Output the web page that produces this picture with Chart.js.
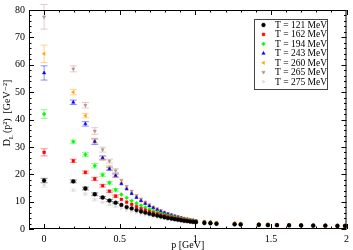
<!DOCTYPE html>
<html>
<head>
<meta charset="utf-8">
<script src="https://cdn.jsdelivr.net/npm/chart.js@4/dist/chart.umd.min.js"></script>
<style>
  body { margin: 0; background: #fff; }
</style>
</head>
<body>
<canvas id="propChart" width="353" height="250"></canvas>
<script>
// momenta p [GeV]
const momenta = [0, 0.193, 0.273, 0.335, 0.387, 0.432, 0.473, 0.511, 0.546, 0.579,
  0.611, 0.641, 0.669, 0.696, 0.722, 0.748, 0.772, 0.796, 0.819, 0.842,
  0.864, 0.885, 0.906, 0.926, 0.946, 0.966, 0.985, 1.004, 1.06, 1.1,
  1.14, 1.26, 1.3, 1.42, 1.48, 1.54, 1.62, 1.7, 1.78, 1.86, 1.94, 1.99];

const temps = ['T = 121 MeV', 'T = 162 MeV', 'T = 194 MeV', 'T = 243 MeV',
  'T = 260 MeV', 'T = 265 MeV', 'T = 275 MeV'];

// D_L(p^2) [GeV^-2]
const d121 = [17.7, 17.4, 14.8, 12.7, 11.5, 10.4, 9.6, 8.8, 8.0, 7.5, 6.9, 6.4, 6.0, 5.6, 5.2, 4.9, 4.6, 4.3, 4.0, 3.8, 3.6, 3.4, 3.2, 3.0, 2.9, 2.7, 2.6, 2.5, 2.2, 2.1, 1.9, 1.7, 1.6, 1.5, 1.4, 1.4, 1.3, 1.3, 1.2, 1.2, 1.1, 1.1];
const d162 = [28.0, 24.9, 20.7, 18.3, 15.8, 13.8, 12.0, 10.8, 9.8, 9.0, 8.2, 7.5, 6.9, 6.4, 5.9, 5.5, 5.1, 4.8, 4.4, 4.2, 3.9, 3.7, 3.5, 3.3, 3.1, 2.9, 2.8, 2.7, 2.4, 2.2, 2.0, 1.8, 1.7, 1.6, 1.5, 1.4, 1.4, 1.3, 1.3, 1.2, 1.2, 1.1];
const d194 = [42.0, 31.9, 27.2, 23.1, 19.8, 16.9, 14.3, 12.6, 11.4, 10.3, 9.4, 8.6, 7.9, 7.2, 6.6, 6.1, 5.6, 5.2, 4.8, 4.5, 4.2, 3.9, 3.7, 3.5, 3.3, 3.1, 2.9, 2.8, 2.5, 2.3, 2.1, 1.9, 1.8, 1.6, 1.6, 1.5, 1.4, 1.4, 1.3, 1.3, 1.2, 1.2];
const d243 = [57.0, 46.3, 38.4, 31.9, 26.0, 22.0, 19.5, 16.5, 14.6, 12.9, 11.5, 10.3, 9.3, 8.4, 7.7, 7.0, 6.4, 5.9, 5.4, 5.0, 4.6, 4.3, 4.0, 3.7, 3.5, 3.3, 3.1, 2.9, 2.6, 2.4, 2.2, 2.0, 1.9, 1.7, 1.6, 1.5, 1.5, 1.4, 1.3, 1.3, 1.2, 1.2];
const d260 = [64.0, 50.0, 41.4, 32.2, 25.8, 22.5, 19.5, 16.8, 14.9, 13.2, 11.7, 10.5, 9.5, 8.6, 7.8, 7.1, 6.5, 6.0, 5.5, 5.1, 4.7, 4.4, 4.1, 3.8, 3.6, 3.4, 3.2, 3.0, 2.7, 2.5, 2.3, 2.0, 1.9, 1.7, 1.7, 1.6, 1.5, 1.4, 1.4, 1.3, 1.3, 1.2];
const d265 = [77.5, 58.5, 45.2, 35.8, 29.0, 24.8, 21.3, 17.8, 15.6, 13.9, 12.3, 11.0, 9.9, 8.9, 8.1, 7.4, 6.8, 6.2, 5.7, 5.3, 4.9, 4.5, 4.2, 3.9, 3.7, 3.5, 3.3, 3.1, 2.8, 2.6, 2.3, 2.1, 2.0, 1.8, 1.7, 1.6, 1.5, 1.5, 1.4, 1.4, 1.3, 1.3];
const d275 = [16.0, 14.2, 12.8, 10.7, 9.8, 8.9, 8.2, 7.5, 6.9, 6.4, 5.9, 5.5, 5.1, 4.8, 4.5, 4.2, 3.9, 3.7, 3.5, 3.3, 3.1, 2.9, 2.8, 2.6, 2.5, 2.4, 2.3, 2.2, 2.0, 1.9, 1.8, 1.6, 1.5, 1.4, 1.4, 1.3, 1.3, 1.2, 1.2, 1.1, 1.1, 1.0];

// errors (only the low momenta have visible bars)
const e121 = [0.8, 0.5, 0.5, 0.5, 0.4, 0.4, 0.3];
const e162 = [1.3, 0.6, 0.5, 0.6, 0.5, 0.4, 0.4];
const e194 = [1.6, 0.6, 0.7, 0.8, 0.6, 0.5, 0.5];
const e243 = [2.6, 0.8, 0.8, 1.0, 0.7, 0.6, 0.6];
const e260 = [3.2, 1.0, 0.8, 0.9, 0.7, 0.6, 0.6];
const e265 = [4.5, 1.1, 1.0, 1.2, 0.9, 0.7, 0.7];
const e275 = [0.8, 0.4, 0.4, 0.4, 0.3, 0.3, 0.3];

const serif = '"Liberation Serif", "DejaVu Serif", serif';

const series = [
  { d: d121, e: e121, color: '0,0,0', style: 'circle', rot: 0 },
  { d: d162, e: e162, color: '255,0,0', style: 'rect', rot: 0 },
  { d: d194, e: e194, color: '0,255,0', style: 'rectRot', rot: 0 },
  { d: d243, e: e243, color: '0,0,255', style: 'triangle', rot: 0 },
  { d: d260, e: e260, color: '255,165,0', style: 'triangle', rot: -90 },
  { d: d265, e: e265, color: '188,143,143', style: 'triangle', rot: 180 },
  { d: d275, e: e275, color: '220,220,220', style: 'triangle', rot: 90 }
];

const datasets = series.map((s, i) => ({
  label: temps[i],
  data: s.d.map((v, k) => ({ x: momenta[k], y: v })),
  errors: s.e,
  backgroundColor: 'rgb(' + s.color + ')',
  borderColor: 'rgb(' + s.color + ')',
  barColor: 'rgba(' + s.color + ',0.45)',
  pointStyle: s.style,
  rotation: s.rot,
  pointRadius: 1.9,
  borderWidth: 0.5,
  showLine: false
}));

// vertical error bars with caps
const errorBars = {
  id: 'errorBars',
  beforeDatasetsDraw(chart) {
    const { ctx, scales: { x, y } } = chart;
    ctx.save();
    ctx.lineWidth = 1;
    chart.data.datasets.forEach(ds => {
      ctx.strokeStyle = ds.barColor;
      ds.errors.forEach((err, k) => {
        const pt = ds.data[k];
        const px = x.getPixelForValue(pt.x);
        const top = y.getPixelForValue(pt.y + err);
        const bot = y.getPixelForValue(pt.y - err);
        ctx.beginPath();
        ctx.moveTo(px, top); ctx.lineTo(px, bot);
        ctx.moveTo(px - 3.5, top); ctx.lineTo(px + 3.5, top);
        ctx.moveTo(px - 3.5, bot); ctx.lineTo(px + 3.5, bot);
        ctx.stroke();
      });
    });
    ctx.restore();
  }
};

// frame, inward ticks, axis titles, legend box
const decor = {
  id: 'decor',
  afterDraw(chart) {
    const { ctx, chartArea: a, scales: { x, y } } = chart;
    ctx.save();
    ctx.strokeStyle = '#000';
    ctx.lineWidth = 1;
    ctx.strokeRect(a.left + 0.5, a.top + 0.5, a.right - a.left - 1, a.bottom - a.top - 1);

    ctx.beginPath();
    for (let i = 0; i <= 40; i++) {
      const py = Math.round(y.getPixelForValue(i * 2)) + 0.5;
      const len = i % 5 === 0 ? 5 : 2.5;
      ctx.moveTo(a.left, py); ctx.lineTo(a.left + len, py);
      ctx.moveTo(a.right, py); ctx.lineTo(a.right - len, py);
    }
    for (let i = 0; i <= 20; i++) {
      const px = Math.round(x.getPixelForValue(i / 10)) + 0.5;
      const len = i % 5 === 0 ? 5 : 2.5;
      ctx.moveTo(px, a.bottom); ctx.lineTo(px, a.bottom - len);
      ctx.moveTo(px, a.top); ctx.lineTo(px, a.top + len);
    }
    ctx.stroke();

    // x title
    ctx.fillStyle = '#000';
    ctx.font = '10px ' + serif;
    ctx.textAlign = 'center';
    ctx.textBaseline = 'alphabetic';
    ctx.fillText('p [GeV]', (a.left + a.right) / 2, 248);

    // y title with subscript L
    ctx.save();
    ctx.translate(10, 113);
    ctx.rotate(-Math.PI / 2);
    ctx.textAlign = 'left';
    const big = '10px ' + serif, small = '7px ' + serif;
    const rest = '(p²)  [GeV⁻²]';
    ctx.font = big;
    const wD = ctx.measureText('D').width, wR = ctx.measureText(rest).width;
    ctx.font = small;
    const wL = ctx.measureText('L ').width;
    let cx = -(wD + wL + wR) / 2;
    ctx.font = big; ctx.fillText('D', cx, 0); cx += wD;
    ctx.font = small; ctx.fillText('L', cx, 2.5); cx += wL;
    ctx.font = big; ctx.fillText(rest, cx, 0);
    ctx.restore();

    // legend
    const lx = 254, ly = 19, lw = 73, lh = 70;
    ctx.fillStyle = '#fff';
    ctx.fillRect(lx, ly, lw, lh);
    ctx.strokeStyle = '#444';
    ctx.strokeRect(lx + 0.5, ly + 0.5, lw, lh);
    ctx.textAlign = 'left';
    ctx.textBaseline = 'middle';
    ctx.font = '9.5px ' + serif;
    chart.data.datasets.forEach((ds, i) => {
      const ry = 25 + i * 9.45;
      ctx.fillStyle = ds.backgroundColor;
      ctx.strokeStyle = ds.borderColor;
      ctx.lineWidth = 0.5;
      Chart.helpers.drawPoint(ctx, {
        pointStyle: ds.pointStyle, rotation: ds.rotation, radius: 1.9, borderWidth: 0.5
      }, 263.5, ry);
      ctx.fillStyle = '#000';
      ctx.fillText(ds.label, 275, ry + 0.5);
    });
    ctx.restore();
  }
};

new Chart(document.getElementById('propChart'), {
  type: 'scatter',
  data: { datasets },
  options: {
    responsive: false,
    animation: false,
    devicePixelRatio: 1,
    layout: { padding: { top: 3, right: 3, left: 0, bottom: 0 } },
    plugins: { legend: { display: false }, tooltip: { enabled: false } },
    scales: {
      x: {
        type: 'linear', min: -0.1, max: 2,
        grid: { display: false, drawTicks: false },
        border: { display: false },
        afterFit: s => { s.height = 21; },
        afterBuildTicks: s => { s.ticks = [0, 0.5, 1, 1.5, 2].map(v => ({ value: v })); },
        ticks: { padding: 4, color: '#000', font: { family: serif, size: 10 }, maxRotation: 0,
          callback: v => String(v) }
      },
      y: {
        min: 0, max: 80,
        grid: { display: false, drawTicks: false },
        border: { display: false },
        afterFit: s => { s.width = 29; },
        ticks: { stepSize: 10, padding: 4, color: '#000', font: { family: serif, size: 10 } }
      }
    }
  },
  plugins: [errorBars, decor]
});
</script>
</body>
</html>
